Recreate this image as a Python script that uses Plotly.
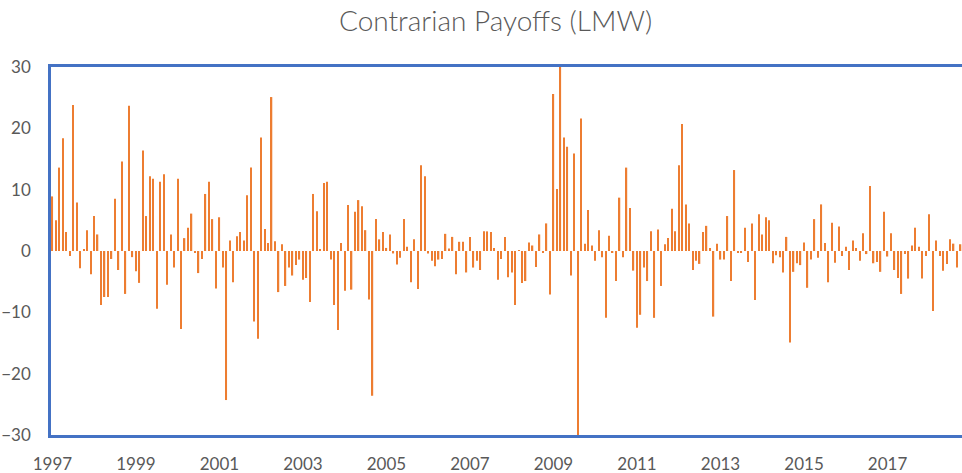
import plotly.graph_objects as go

years = list(range(1997, 2019))
months = [f"{y}-{m:02d}" for y in years for m in range(1, 13)]

payoffs = [
    # 1997
    8.9, 5.0, 13.6, 18.4, 3.1, -0.8, 23.8, 7.9, -2.8, 0.3, 3.4, -3.8,
    # 1998
    5.7, 2.7, -8.8, -7.5, -7.5, -1.3, 8.5, -3.1, 14.6, -7.0, 23.7, -1.0,
    # 1999
    -3.3, -5.2, 16.4, 5.7, 12.2, 11.8, -9.4, 11.3, 12.5, -5.5, 2.7, -2.7,
    # 2000
    11.8, -12.7, 2.1, 3.8, 6.1, -0.3, -3.6, -1.3, 9.3, 11.3, 5.2, -6.1,
    # 2001
    5.5, -2.7, -24.3, 1.7, -5.1, 2.4, 3.1, 1.7, 9.1, 13.6, -11.5, -14.3,
    # 2002
    18.5, 3.6, 1.3, 25.1, 1.6, -6.7, 1.1, -5.7, -2.7, -4.0, -2.3, -1.4,
    # 2003
    -4.7, -4.4, -8.3, 9.3, 6.5, 0.3, 11.1, 11.3, -1.4, -8.8, -12.9, 1.3,
    # 2004
    -6.5, 7.5, -6.3, 6.4, 8.3, 7.3, 3.4, -7.9, -23.6, 5.2, 1.9, 3.1,
    # 2005
    0.5, 2.7, -0.4, -2.2, -1.1, 5.2, 0.7, -5.1, 1.9, -6.2, 14.0, 12.2,
    # 2006
    -0.4, -1.6, -2.5, -1.4, -1.3, 2.8, 0.4, 2.3, -3.8, 1.5, 1.5, -3.5,
    # 2007
    2.3, -2.7, -1.6, -3.1, 3.2, 3.2, 3.1, 0.5, -4.7, -1.3, 2.3, -4.3,
    # 2008
    -3.5, -8.8, 0.1, -5.2, -4.9, 1.4, 0.9, -2.6, 2.7, -0.3, 4.5, -7.1,
    # 2009
    25.6, 10.1, 30.0, 18.5, 17.0, -4.0, 15.9, -30.0, 21.6, 1.2, 6.7, 0.9,
    # 2010
    -1.6, 3.4, -1.0, -10.9, 2.5, -0.2, -4.9, 8.7, -1.0, 13.6, 7.0, -3.2,
    # 2011
    -12.5, -10.4, -2.7, -4.9, 3.2, -10.9, 3.5, -5.7, 1.1, 2.1, 6.9, 3.2,
    # 2012
    14.0, 20.7, 7.6, 4.5, -3.1, -1.6, -2.1, 3.1, 4.1, 0.5, -10.7, 1.2,
    # 2013
    -1.4, -1.4, 5.7, -4.9, 13.2, -0.3, -0.2, 3.8, -1.8, 4.5, -8.0, 6.0,
    # 2014
    2.7, 5.5, 5.0, -2.0, -0.7, -1.0, -3.5, 2.3, -14.9, -3.4, -2.0, -2.3,
    # 2015
    1.4, -6.0, -1.4, 5.2, -1.1, 7.6, 1.3, -5.1, 4.6, -1.9, 4.0, -0.8,
    # 2016
    0.7, -3.1, 1.7, 0.5, -1.6, 2.9, -0.5, 10.6, -2.0, -1.8, -3.4, 6.4,
    # 2017
    -0.9, 2.9, -3.1, -4.4, -7.0, -0.5, -4.5, 0.9, 3.8, 0.7, -4.5, -0.8,
    # 2018
    6.0, -9.8, 1.7, -0.8, -3.2, -2.1, 1.9, 1.2, -2.7, 1.1,
]
months = months[:len(payoffs)]

tick_months = [f"{y}-01" for y in range(1997, 2019, 2)]
tick_labels = [str(y) for y in range(1997, 2019, 2)]
y_ticks = [-30, -20, -10, 0, 10, 20, 30]

fig = go.Figure(
    go.Bar(
        x=months,
        y=payoffs,
        marker=dict(color="#ED7D31", line=dict(width=0)),
    )
)

fig.update_layout(
    width=962,
    height=473,
    margin=dict(l=51, r=0, t=67, b=38, autoexpand=False),
    paper_bgcolor="white",
    plot_bgcolor="white",
    bargap=0.62,
    showlegend=False,
    font=dict(family="Lato, Carlito, Calibri, sans-serif", color="#595959"),
    title=dict(
        text="Contrarian Payoffs (LMW)",
        x=0.488,
        xanchor="center",
        xref="paper",
        y=0.955,
        yref="container",
        yanchor="middle",
        font=dict(size=28, color="#595959", family="Lato, sans-serif", weight=300),
    ),
)

fig.update_xaxes(
    type="category",
    range=[-0.4, len(payoffs) - 0.6],
    tickmode="array",
    tickvals=tick_months,
    ticktext=tick_labels,
    showgrid=False,
    zeroline=False,
    showline=True,
    linecolor="#4472C4",
    linewidth=2.5,
    mirror=True,
    ticks="",
    automargin=False,
    ticklabelstandoff=12,
    tickfont=dict(size=17, color="#595959"),
)

fig.update_yaxes(
    range=[-30, 30],
    tickmode="array",
    tickvals=y_ticks,
    showgrid=False,
    zeroline=False,
    showline=True,
    linecolor="#4472C4",
    linewidth=2.5,
    ticks="",
    automargin=False,
    ticklabelstandoff=14,
    tickfont=dict(size=17, color="#595959"),
)

fig.write_html(
    "out.html",
    config={"displayModeBar": False},
    post_script="document.body.style.margin='0px';document.body.style.padding='0px';",
)
